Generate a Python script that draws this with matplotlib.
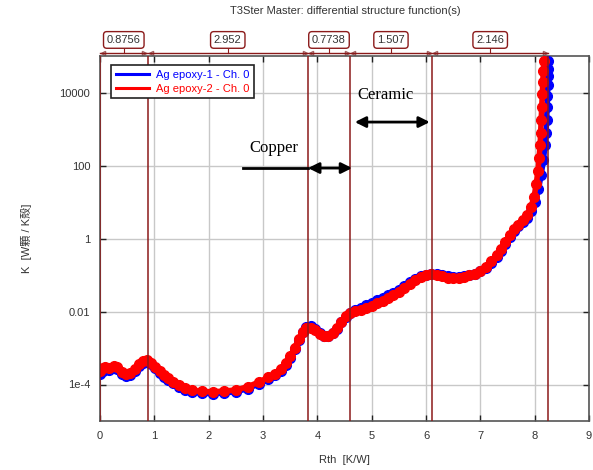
import matplotlib
matplotlib.use("Agg")
import matplotlib.pyplot as plt
from matplotlib.lines import Line2D
import numpy as np

plt.rcParams["font.family"] = ["Liberation Sans", "DejaVu Sans"]

COLOR_SEG = "#8b1a1a"
COLOR_GRID = "#c8c8c8"
COLOR_TXT = "#333333"

# Structure function samples: Rth [K/W], log10(K)
rth_1 = [0.00, 0.05, 0.10, 0.17, 0.25, 0.32, 0.40, 0.48, 0.56, 0.64, 0.72, 0.80,
         0.87, 0.94, 1.02, 1.10, 1.18, 1.26, 1.35, 1.45, 1.56, 1.70, 1.88, 2.08,
         2.28, 2.50, 2.72, 2.93, 3.10, 3.22, 3.33, 3.42, 3.50, 3.58, 3.66, 3.73,
         3.80, 3.88, 3.96, 4.04, 4.12, 4.20, 4.28, 4.36, 4.44, 4.52, 4.60, 4.70,
         4.80, 4.90, 5.00, 5.10, 5.20, 5.30, 5.40, 5.50, 5.60, 5.70, 5.80, 5.90,
         6.00, 6.10, 6.20, 6.30, 6.40, 6.50, 6.60, 6.70, 6.80, 6.90, 7.00, 7.10,
         7.20, 7.30, 7.38, 7.46, 7.54, 7.62, 7.70, 7.78, 7.86, 7.94, 8.01, 8.07,
         8.12, 8.16, 8.19, 8.21, 8.22, 8.23, 8.235, 8.24, 8.245, 8.25, 8.25]
logk_1 = [-3.70, -3.62, -3.58, -3.60, -3.55, -3.58, -3.70, -3.78, -3.74, -3.63, -3.50, -3.40,
          -3.36, -3.43, -3.56, -3.69, -3.79, -3.87, -3.97, -4.07, -4.15, -4.21, -4.24, -4.25,
          -4.23, -4.20, -4.11, -3.98, -3.85, -3.75, -3.63, -3.47, -3.27, -3.03, -2.77, -2.55,
          -2.42, -2.40, -2.49, -2.60, -2.67, -2.67, -2.60, -2.47, -2.30, -2.14, -2.04, -1.97,
          -1.90, -1.82, -1.76, -1.69, -1.63, -1.56, -1.49, -1.41, -1.31, -1.20, -1.11, -1.03,
          -0.99, -0.97, -0.98, -1.01, -1.04, -1.06, -1.06, -1.04, -1.01, -0.97, -0.90, -0.80,
          -0.66, -0.50, -0.35, -0.16, 0.04, 0.20, 0.33, 0.45, 0.57, 0.75, 1.00, 1.35,
          1.75, 2.15, 2.55, 2.90, 3.25, 3.60, 3.90, 4.20, 4.45, 4.65, 4.85]

rth_2 = [0.00, 0.05, 0.10, 0.17, 0.25, 0.32, 0.40, 0.48, 0.56, 0.64, 0.72, 0.80,
         0.87, 0.94, 1.02, 1.10, 1.18, 1.26, 1.35, 1.45, 1.56, 1.70, 1.88, 2.08,
         2.28, 2.50, 2.72, 2.93, 3.10, 3.22, 3.33, 3.42, 3.50, 3.58, 3.66, 3.73,
         3.80, 3.88, 3.96, 4.04, 4.12, 4.20, 4.28, 4.36, 4.44, 4.52, 4.60, 4.70,
         4.80, 4.90, 5.00, 5.10, 5.20, 5.30, 5.40, 5.50, 5.60, 5.70, 5.80, 5.90,
         6.00, 6.10, 6.20, 6.30, 6.40, 6.50, 6.60, 6.70, 6.80, 6.90, 7.00, 7.10,
         7.20, 7.30, 7.38, 7.46, 7.54, 7.62, 7.70, 7.78, 7.86, 7.93, 7.99, 8.03,
         8.06, 8.08, 8.10, 8.11, 8.12, 8.13, 8.14, 8.15, 8.16, 8.17]
logk_2 = [-3.62, -3.55, -3.52, -3.55, -3.50, -3.53, -3.65, -3.72, -3.68, -3.58, -3.45, -3.36,
          -3.33, -3.40, -3.52, -3.64, -3.74, -3.82, -3.92, -4.02, -4.10, -4.16, -4.19, -4.20,
          -4.18, -4.15, -4.06, -3.93, -3.80, -3.70, -3.58, -3.42, -3.23, -3.00, -2.75, -2.55,
          -2.45, -2.44, -2.52, -2.62, -2.68, -2.66, -2.58, -2.45, -2.28, -2.12, -2.03, -1.99,
          -1.96, -1.90, -1.84, -1.76, -1.70, -1.62, -1.55, -1.46, -1.36, -1.25, -1.15, -1.06,
          -1.00, -0.97, -0.99, -1.03, -1.07, -1.09, -1.08, -1.05, -1.01, -0.96, -0.88, -0.77,
          -0.62, -0.45, -0.30, -0.10, 0.10, 0.25, 0.38, 0.50, 0.64, 0.85, 1.15, 1.50,
          1.85, 2.20, 2.55, 2.90, 3.25, 3.60, 3.95, 4.30, 4.60, 4.87]

# Section widths along Rth [K/W]
seg_widths = [0.8756, 2.952, 0.7738, 1.507, 2.146]
seg_labels = ["0.8756", "2.952", "0.7738", "1.507", "2.146"]

y_ticks = [1e-4, 1e-2, 1, 1e2, 1e4]
y_ticklabels = ["1e-4", "0.01", "1", "100", "10000"]
x_ticks = [0, 1, 2, 3, 4, 5, 6, 7, 8, 9]

fig = plt.figure(figsize=(5.93, 4.70), dpi=100)
ax = fig.add_axes([100 / 593, 49 / 470, 489 / 593, 365 / 470])
ax.set_yscale("log")
ax.set_xlim(0, 9)
ax.set_ylim(1e-5, 1e5)

ax.set_xticks(x_ticks)
ax.set_yticks(y_ticks)
ax.set_yticklabels(y_ticklabels)
ax.minorticks_off()
ax.tick_params(direction="in", length=4, width=1, colors="#222222",
               labelsize=8, labelcolor=COLOR_TXT, top=True, right=True, pad=7)
ax.grid(True, color=COLOR_GRID, lw=1, zorder=0)
for s in ax.spines.values():
    s.set_color("#555555")
    s.set_linewidth(1.2)

# Curves (blue underneath red)
ax.plot(rth_1, 10 ** np.array(logk_1), "o-", c="blue", ms=7, lw=4, zorder=4)
ax.plot(rth_2, 10 ** np.array(logk_2), "o-", c="red", ms=7, lw=4, zorder=5)

# Section boundaries and top dimension labels
edges = np.concatenate([[0], np.cumsum(seg_widths)])
for xe in edges:
    ax.axvline(xe, color=COLOR_SEG, lw=1.1, zorder=6)
trans = ax.get_xaxis_transform()
ax.plot([edges[0], edges[-1]], [1.008, 1.008], color=COLOR_SEG, lw=1,
        transform=trans, clip_on=False, zorder=7)
for i, lab in enumerate(seg_labels):
    mid = (edges[i] + edges[i + 1]) / 2
    ax.plot([mid, mid], [1.008, 1.02], color=COLOR_SEG, lw=0.8,
            transform=trans, clip_on=False)
    ax.plot([edges[i] + 0.06], [1.008], marker="<", ms=3, mfc="none",
            mec="#a06060", transform=trans, clip_on=False)
    ax.plot([edges[i + 1] - 0.06], [1.008], marker=">", ms=3, mfc="none",
            mec="#a06060", transform=trans, clip_on=False)
    ax.text(mid, 1.044, lab, transform=trans, ha="center", va="center",
            fontsize=8, color=COLOR_TXT,
            bbox=dict(boxstyle="round,pad=0.3", fc="white", ec=COLOR_SEG, lw=1))

# Layer annotations
ax.annotate("", xy=(4.69, 10 ** 3.19), xytext=(6.07, 10 ** 3.19),
            arrowprops=dict(arrowstyle="<|-|>", color="black", lw=2,
                            mutation_scale=16, shrinkA=0, shrinkB=0), zorder=8)
ax.text(5.25, 10 ** 3.92, "Ceramic", family="Liberation Serif", fontsize=12,
        ha="center", va="center", zorder=8)
ax.plot([2.63, 3.83], [10 ** 1.93, 10 ** 1.93], color="black", lw=2, zorder=8)
ax.annotate("", xy=(3.83, 10 ** 1.93), xytext=(4.64, 10 ** 1.93),
            arrowprops=dict(arrowstyle="<|-|>", color="black", lw=2,
                            mutation_scale=16, shrinkA=0, shrinkB=0), zorder=8)
ax.text(3.2, 10 ** 2.48, "Copper", family="Liberation Serif", fontsize=12,
        ha="center", va="center", zorder=8)

handles = [Line2D([], [], color="blue", lw=2.2), Line2D([], [], color="red", lw=2.2)]
leg = ax.legend(handles, ["Ag epoxy-1 - Ch. 0", "Ag epoxy-2 - Ch. 0"],
                loc="upper left", bbox_to_anchor=(0.012, 0.99), fontsize=8,
                labelcolor="linecolor", fancybox=False, framealpha=1,
                edgecolor="#222222", handlelength=3, borderpad=0.4,
                labelspacing=0.35, handletextpad=0.6)
leg.get_frame().set_linewidth(1.2)
leg.set_zorder(10)

fig.text(345 / 593, 1 - 11 / 470, "T3Ster Master: differential structure function(s)",
         ha="center", va="center", fontsize=8, color=COLOR_TXT)
ax.set_xlabel("Rth  [K/W]", fontsize=8, color=COLOR_TXT, labelpad=10)
ax.set_ylabel("K  [W顆 / K殻]", fontsize=8, color=COLOR_TXT, labelpad=20,
              family=["Liberation Sans", "Noto Sans CJK SC"])

fig.savefig("out.png", dpi=100)
